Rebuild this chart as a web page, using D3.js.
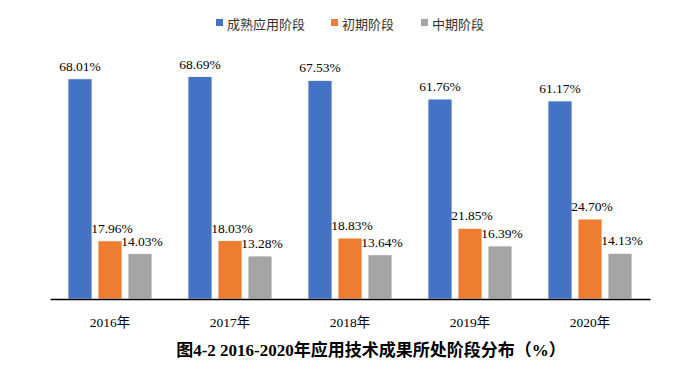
<!DOCTYPE html>
<html><head><meta charset="utf-8">
<script src="https://cdn.jsdelivr.net/npm/d3@7"></script>
<style>
body{margin:0;background:#fff;}
text{font-family:"Liberation Serif","Noto Sans CJK SC",serif;}
</style></head>
<body><svg id="c" width="695" height="368"></svg>
<script>
const categories = ["2016年","2017年","2018年","2019年","2020年"];
const seriesNames = ["成熟应用阶段","初期阶段","中期阶段"];
const mature = [68.01, 68.69, 67.53, 61.76, 61.17];
const early = [17.96, 18.03, 18.83, 21.85, 24.70];
const middle = [14.03, 13.28, 13.64, 16.39, 14.13];
const colors = ["#4472C4","#ED7D31","#A5A5A5"];
const titleText = "图4-2  2016-2020年应用技术成果所处阶段分布（%）";

const seriesValues = [mature, early, middle];
const svg = d3.select("#c");
const x0 = d3.scaleBand().domain(categories).range([50, 650]).padding(0);
const x1 = d3.scaleBand().domain(seriesNames).range([18, 102]).paddingInner(0.2);
const y = d3.scaleLinear().domain([0, 80]).range([299, 40]);
const color = d3.scaleOrdinal().domain(seriesNames).range(colors);

const rows = categories.map((c,i)=>({cat:c, vals: seriesNames.map((s,j)=>({s, v:seriesValues[j][i]}))}));

const g = svg.append("g");
const groups = g.selectAll("g.grp").data(rows).join("g").attr("class","grp")
  .attr("transform", d=>`translate(${x0(d.cat)},0)`);
groups.selectAll("rect").data(d=>d.vals).join("rect")
  .attr("x", d=>x1(d.s)).attr("width", x1.bandwidth())
  .attr("y", d=>y(d.v)).attr("height", d=>y(0)-y(d.v))
  .attr("fill", d=>color(d.s)).attr("stroke","#fff").attr("stroke-width",0.8);
groups.selectAll("text").data(d=>d.vals).join("text")
  .attr("x", d=>x1(d.s)+x1.bandwidth()/2 + (d.s===seriesNames[0]?0:2))
  .attr("y", d=>y(d.v)-8)
  .attr("text-anchor","middle").attr("font-size",13.5).attr("fill","#000")
  .text(d=>d.v.toFixed(2)+"%");

const ax = svg.append("g").attr("transform","translate(0,299)")
  .call(d3.axisBottom(x0).tickSize(0).tickPadding(18));
ax.select(".domain").attr("stroke","#000").attr("stroke-width",1.3);
ax.selectAll("text").attr("font-size",13.5).attr("fill","#000")
  .style("font-family",'"Liberation Serif","Noto Sans CJK SC",serif');

// legend
const legX = [216, 331, 421];
const leg = svg.append("g");
seriesNames.forEach((s,i)=>{
  leg.append("rect").attr("x",legX[i]).attr("y",19).attr("width",7).attr("height",7).attr("fill",colors[i]);
  leg.append("text").attr("x",legX[i]+11).attr("y",29).attr("font-size",13).attr("fill","#333")
    .style("font-family",'"Noto Sans CJK SC",sans-serif').text(s);
});

svg.append("text").attr("x",371).attr("y",356).attr("text-anchor","middle")
  .attr("font-size",17).attr("font-weight","bold").attr("fill","#000").text(titleText);
</script></body></html>
